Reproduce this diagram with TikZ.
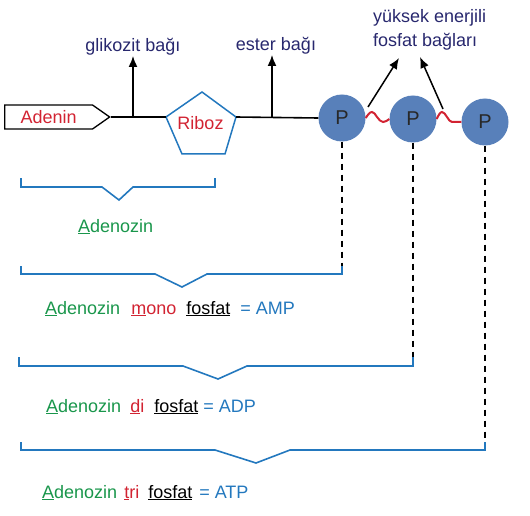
\documentclass[tikz,border=0pt]{standalone}
\usepackage{fontspec}
\setmainfont{Liberation Sans}
\usetikzlibrary{shapes.geometric,shapes.symbols,arrows.meta}
\definecolor{navy}{RGB}{40,40,110}
\definecolor{rd}{RGB}{210,35,50}
\definecolor{gr}{RGB}{25,150,75}
\definecolor{bl}{RGB}{35,120,190}
\definecolor{pfill}{RGB}{88,128,186}
\definecolor{pt}{RGB}{40,40,40}
\newcommand{\ulc}[2]{{\color{#1}\underline{#2}}}
\begin{document}
\begin{tikzpicture}[x=1pt,y=-1pt,
  every node/.style={font=\fontsize{18}{24}\selectfont, inner sep=1pt},
  lbl/.style={text=navy},
  ln/.style={line width=1.6pt, black},
  arr/.style={line width=1.5pt, black, -{Latex[length=11pt,width=9pt]}},
  wave/.style={line width=2pt, rd},
  dsh/.style={line width=1.4pt, black, dash pattern=on 6pt off 5pt},
  brk/.style={line width=1.6pt, bl},
  pcirc/.style={circle, fill=pfill, minimum size=47pt, text=pt, inner sep=0pt, font=\fontsize{20}{24}\selectfont}]
\useasboundingbox (0,0) rectangle (530,516);

% molecule
\node[signal, signal to=east, signal pointer angle=70, draw, line width=1.3pt,
      minimum width=105pt, minimum height=24pt, inner sep=0pt, text=rd, anchor=west] (aden) at (4,117) {Adenin};
\coordinate (rt) at (202,92);
\coordinate (rl) at (166,117);
\coordinate (rbl) at (182,154);
\coordinate (rbr) at (225,154);
\coordinate (rr) at (236,117);
\draw[bl, line width=1.5pt, line join=miter] (rt) -- (rr) -- (rbr) -- (rbl) -- (rl) -- cycle;
\node[text=rd] (rib) at (200.5,123) {Riboz};
\node[pcirc] (p1) at (342,118) {P};
\node[pcirc] (p2) at (413,119) {P};
\node[pcirc] (p3) at (485,122) {P};

\draw[ln] (aden.east) -- (rl);
\draw[ln] (rr) -- (p1.west);

% labels
\node[lbl, anchor=south] (glik) at (133,56) {glikozit bağı};
\node[lbl, anchor=south] (est) at (276,55) {ester bağı};
\node[lbl, anchor=west, align=left] (hef) at (372,30) {yüksek enerjili\\fosfat bağları};

\coordinate (g) at (133,117);
\coordinate (e) at (272,117);
\draw[arr] (g) -- (g |- glik.south);
\draw[arr] (e) -- (e |- est.south);

% waves
\draw[wave] (p1.east) sin (372,112) cos (377,117) sin (383,122) cos (p2.west);
\draw[wave] (p2.east) sin (442,112) cos (447,117) sin (452,122) cos (p3.west);

\coordinate (w1) at (368,107);
\coordinate (w2) at (443,109);
\coordinate (t1) at (399,58);
\coordinate (t2) at (420,57);
\draw[arr] (w1) -- (t1);
\draw[arr] (w2) -- (t2);

% brackets
\coordinate (b2r) at (342,266);
\coordinate (b3r) at (413,357);
\coordinate (b4r) at (485,442);
\draw[dsh] (p1.south) -- (b2r);
\draw[dsh] (p2.south) -- (b3r);
\draw[dsh] (p3.south) -- (b4r);

\draw[brk] (21,178) -- (21,187) -- (102,187) -- (119,200) -- (133,187) -- (215,187) -- (215,178);
\draw[brk] (21,266) -- (21,274) -- (155,274) -- (182,287) -- (207,274) -- (342,274) -- (b2r);
\draw[brk] (19,357) -- (19,366) -- (183,366) -- (218,379) -- (247,366) -- (413,366) -- (b3r);
\draw[brk] (21,442) -- (21,450) -- (215,450) -- (256,463) -- (290,450) -- (485,450) -- (b4r);

% bracket texts
\node[anchor=base west, text=gr] (ado) at (77,232) {\ulc{gr}{A}denozin};
\node[anchor=base west] (amp) at (44,314) {\color{gr}\ulc{gr}{A}denozin\hspace{6pt} \color{rd}\ulc{rd}{m}ono\hspace{5pt} \color{black}\underline{fosfat}\hspace{5pt} \color{bl}= AMP};
\node[anchor=base west] (adp) at (45,412) {\color{gr}\ulc{gr}{A}denozin\hspace{4pt} \color{rd}\ulc{rd}{d}i\hspace{5pt} \color{black}\underline{fosfat} \color{bl}= ADP};
\node[anchor=base west] (atp) at (41,498) {\color{gr}\ulc{gr}{A}denozin\hspace{2pt} \color{rd}\ulc{rd}{t}ri\hspace{4pt} \color{black}\underline{fosfat}\hspace{2pt} \color{bl}= ATP};
\end{tikzpicture}
\end{document}
